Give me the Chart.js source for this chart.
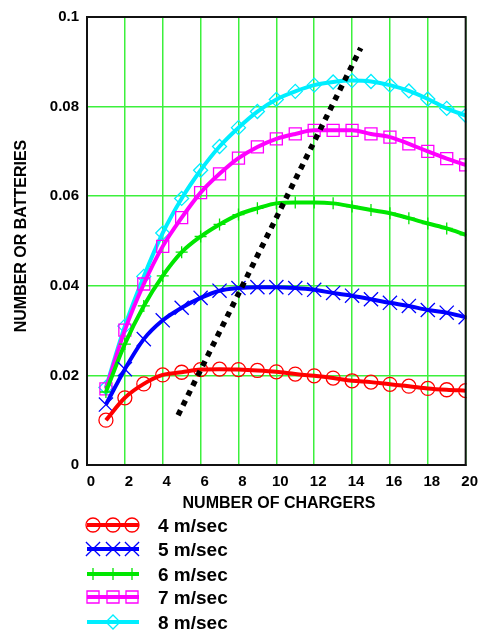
<!DOCTYPE html>
<html>
<head>
<meta charset="utf-8">
<script src="https://cdn.jsdelivr.net/npm/chart.js@4/dist/chart.umd.min.js"></script>
<style>
  html, body { margin:0; padding:0; background:#fff; }
  canvas { display:block; }
</style>
</head>
<body>
<canvas id="chart" width="482" height="633"></canvas>
<script>
'use strict';
// ── Data ───────────────────────────────────────────────────────────────────
const chargers = [1,2,3,4,5,6,7,8,9,10,11,12,13,14,15,16,17,18,19,20];
const speed4 = [0.0100,0.0150,0.0181,0.0201,0.0207,0.0213,0.0214,0.0213,0.0211,0.0208,0.0203,0.0199,0.0194,0.0188,0.0185,0.0180,0.0176,0.0171,0.0168,0.0166];
const speed5 = [0.0135,0.0214,0.0281,0.0323,0.0351,0.0373,0.0389,0.0395,0.0397,0.0397,0.0395,0.0391,0.0384,0.0378,0.0370,0.0362,0.0355,0.0346,0.0340,0.0330];
const speed6 = [0.0163,0.0270,0.0355,0.0422,0.0475,0.0510,0.0537,0.0559,0.0573,0.0584,0.0586,0.0586,0.0584,0.0577,0.0569,0.0562,0.0551,0.0539,0.0528,0.0514];
const speed7 = [0.0170,0.0301,0.0404,0.0488,0.0552,0.0608,0.0650,0.0685,0.0710,0.0728,0.0739,0.0747,0.0747,0.0747,0.0739,0.0732,0.0717,0.0700,0.0684,0.0670];
const speed8 = [0.0173,0.0310,0.0421,0.0518,0.0595,0.0658,0.0711,0.0753,0.0789,0.0816,0.0834,0.0848,0.0855,0.0858,0.0856,0.0848,0.0835,0.0817,0.0796,0.0780];
const guideX = [4.81, 14.46];
const guideY = [0.0111, 0.0931];
const seriesLabels = ['4 m/sec','5 m/sec','6 m/sec','7 m/sec','8 m/sec'];
const yTickLabels = ['0','0.02','0.04','0.06','0.08','0.1'];

const FONT = '"Liberation Sans", Arial, sans-serif';
const GRID_GREEN = '#3cf03c';

const pts = arr => chargers.map((x, i) => ({ x, y: arr[i] }));

const STYLES = [
  { color:'#ff0000', pointStyle:'circle',   radius:7,   legendMarks:3 },
  { color:'#0000ff', pointStyle:'crossRot', radius:10,  legendMarks:3 },
  { color:'#00e600', pointStyle:'cross',    radius:6,   legendMarks:3 },
  { color:'#ff00ff', pointStyle:'rect',     radius:8.5, legendMarks:3 },
  { color:'#00eeff', pointStyle:'rectRot',  radius:7,   legendMarks:1 },
];

const series = [speed4, speed5, speed6, speed7, speed8];

const lineSets = series.map((arr, i) => ({
  label: seriesLabels[i],
  data: pts(arr),
  borderColor: STYLES[i].color,
  borderWidth: 4,
  cubicInterpolationMode: 'monotone',
  pointStyle: STYLES[i].pointStyle,
  pointRadius: STYLES[i].radius,
  pointBorderColor: STYLES[i].color,
  pointBackgroundColor: 'rgba(0,0,0,0)',
  pointBorderWidth: 1.3,
  clip: 1,
}));

const guideSet = {
  label: 'guide',
  data: guideX.map((x, i) => ({ x, y: guideY[i] })),
  borderColor: '#000',
  borderWidth: 5.5,
  borderDash: [5.5, 5.5],
  borderCapStyle: 'butt',
  pointRadius: 0,
  order: -1,
};

// ── Frame, titles and legend drawn on top ─────────────────────────────────
const decorPlugin = {
  id: 'decor',
  afterDraw(chart) {
    const { ctx, chartArea: a } = chart;
    ctx.save();
    ctx.strokeStyle = '#111';
    ctx.lineWidth = 2;
    ctx.strokeRect(a.left, a.top, a.right - a.left, a.bottom - a.top);

    ctx.fillStyle = '#000';
    ctx.font = `bold 16px ${FONT}`;
    ctx.textAlign = 'center';
    ctx.textBaseline = 'middle';
    ctx.fillText('NUMBER OF CHARGERS', 279, 504);

    ctx.save();
    ctx.translate(22, 236);
    ctx.rotate(-Math.PI / 2);
    ctx.fillText('NUMBER OR BATTERIES', 0, 0);
    ctx.restore();

    // legend
    const rows = [525, 549, 574, 597, 622];
    STYLES.forEach((s, i) => {
      const y = rows[i];
      ctx.strokeStyle = s.color;
      ctx.lineWidth = 4;
      ctx.setLineDash([]);
      ctx.beginPath(); ctx.moveTo(87, y); ctx.lineTo(139, y); ctx.stroke();
      const xs = s.legendMarks === 3 ? [93, 113, 132] : [113];
      ctx.lineWidth = 1.3;
      ctx.fillStyle = 'rgba(0,0,0,0)';
      xs.forEach(x => Chart.helpers.drawPoint(ctx,
        { pointStyle: s.pointStyle, radius: s.radius, rotation: 0, borderWidth: 1.3 }, x, y));
      ctx.fillStyle = '#000';
      ctx.font = `bold 19px ${FONT}`;
      ctx.textAlign = 'left';
      ctx.textBaseline = 'middle';
      ctx.fillText(seriesLabels[i], 158, y + 2);
    });
    ctx.restore();
  }
};

new Chart(document.getElementById('chart'), {
  type: 'line',
  data: { datasets: [guideSet, ...lineSets] },
  options: {
    responsive: false,
    animation: false,
    devicePixelRatio: 1,
    layout: { padding: { top: 14, right: 15, left: 0, bottom: 0 } },
    plugins: { legend: { display: false }, tooltip: { enabled: false } },
    scales: {
      x: {
        type: 'linear', min: 0, max: 20,
        afterFit: s => { s.height = 168; },
        ticks: { stepSize: 2, padding: 8, labelOffset: 4, color: '#000',
                 font: { family: FONT, size: 15, weight: 'bold' } },
        grid: { color: GRID_GREEN, lineWidth: 1.5, drawTicks: false },
        border: { color: '#111', width: 2 },
      },
      y: {
        type: 'linear', min: 0, max: 0.1,
        afterFit: s => { s.width = 87; },
        ticks: { stepSize: 0.02, padding: 8, color: '#000',
                 font: { family: FONT, size: 15, weight: 'bold' },
                 callback: (v, i) => yTickLabels[i] },
        grid: { color: GRID_GREEN, lineWidth: 1.5, drawTicks: false },
        border: { color: '#111', width: 2 },
      },
    },
  },
  plugins: [decorPlugin],
});
</script>
</body>
</html>
